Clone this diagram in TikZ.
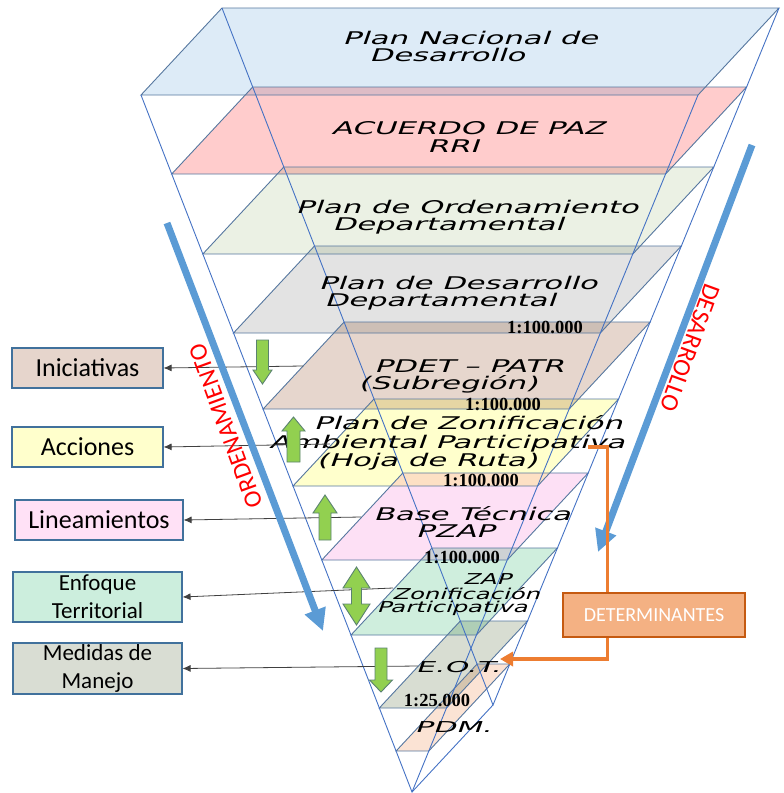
\documentclass[tikz,border=0pt]{standalone}
\usepackage{fontspec}
\setmainfont{Carlito}
\newfontfamily\layf[FakeStretch=1.75,FakeSlant=0.35]{DejaVu Sans}
\newfontfamily\laym[FakeStretch=1.62,FakeSlant=0.35]{DejaVu Sans}
\newfontfamily\layw[FakeStretch=2.0,FakeSlant=0.35]{DejaVu Sans}
\newfontfamily\scf{Liberation Serif}
\usetikzlibrary{arrows.meta,calc}
\definecolor{cA}{HTML}{DDEBF7}
\definecolor{cB}{HTML}{FFCCCC}
\definecolor{cC}{HTML}{EBF1E4}
\definecolor{cD}{HTML}{E3E3E3}
\definecolor{cE}{HTML}{E6D6CD}
\definecolor{cF}{HTML}{FFFFCC}
\definecolor{cG}{HTML}{FDE0F5}
\definecolor{cH}{HTML}{CFEEDD}
\definecolor{cI}{HTML}{D8DDD2}
\definecolor{cJ}{HTML}{FBE3D4}
\definecolor{bAB}{HTML}{DEBCC6}
\definecolor{bBC}{HTML}{EBC1B6}
\definecolor{bCD}{HTML}{D1D7CB}
\definecolor{bDE}{HTML}{CDBFB6}
\definecolor{bEF}{HTML}{E6D6A4}
\definecolor{bFG}{HTML}{FDE0C4}
\definecolor{bGH}{HTML}{CDD1D4}
\definecolor{bHI}{HTML}{AFCEB6}
\definecolor{bIJ}{HTML}{D5C5AF}
\definecolor{edgec}{HTML}{56779F}
\definecolor{wedgec}{HTML}{4472C4}
\definecolor{arrblue}{HTML}{5B9BD5}
\definecolor{grn}{HTML}{92D050}
\definecolor{grnedge}{HTML}{5A8270}
\definecolor{boxedge}{HTML}{41719C}
\definecolor{orng}{HTML}{ED7D31}
\definecolor{orfill}{HTML}{F4B183}
\definecolor{oredge}{HTML}{C55A11}
\definecolor{lblA}{HTML}{E6D5CC}
\definecolor{lblB}{HTML}{FFFFCC}
\definecolor{lblC}{HTML}{FFE1F6}
\definecolor{lblD}{HTML}{CCEEDD}
\definecolor{lblE}{HTML}{D9DDD3}
\definecolor{linegray}{HTML}{404040}
\newcommand\lyrfill[4]{\fill[#4] (#2,#1) -- (#3,#1) -- ({#3-81},{#1+87}) -- ({#2-81},{#1+87}) -- cycle;}
\newcommand\lyrclip[3]{\clip (#2,#1) -- (#3,#1) -- ({#3-81},{#1+87}) -- ({#2-81},{#1+87}) -- cycle;}
\newcommand\lyrline[3]{\draw[lyredge] (#2,#1) -- (#3,#1) -- ({#3-81},{#1+87}) -- ({#2-81},{#1+87}) -- cycle;}
\newcommand\lyrband[7]{\begin{scope}\lyrclip{#1}{#2}{#3}\lyrfill{#4}{#5}{#6}{#7}\end{scope}}
\newcommand\gdn[6]{\draw[garrow] ({#1-#5},#2) -- ({#1+#5},#2) -- ({#1+#5},#3) -- ({#1+#6},#3) -- (#1,#4) -- ({#1-#6},#3) -- ({#1-#5},#3) -- cycle;}
\newcommand\gup[6]{\draw[garrow] (#1,#2) -- ({#1+#6},#3) -- ({#1+#5},#3) -- ({#1+#5},#4) -- ({#1-#5},#4) -- ({#1-#5},#3) -- ({#1-#6},#3) -- cycle;}
\newcommand\gboth[7]{\draw[garrow] (#1,#2) -- ({#1+#7},#3) -- ({#1+#6},#3) -- ({#1+#6},#4) -- ({#1+#7},#4) -- (#1,#5) -- ({#1-#7},#4) -- ({#1-#6},#4) -- ({#1-#6},#3) -- ({#1-#7},#3) -- cycle;}
\begin{document}
\begin{tikzpicture}[x=1pt,y=-1pt,
  lyredge/.style={draw=edgec,line width=0.9pt},
  wedge/.style={draw=wedgec,line width=0.9pt},
  garrow/.style={fill=grn,draw=grnedge,line width=0.9pt,line join=miter},
  lbox/.style={draw=boxedge,line width=1.1pt,inner sep=0pt,font=\fontsize{26}{30}\selectfont},
  lbox2/.style={lbox,align=center,font=\fontsize{23}{28}\selectfont},
  lt/.style={font=\layf\fontsize{17.5}{20}\selectfont,anchor=base,inner sep=0pt},
  ltsmall/.style={font=\laym\fontsize{15}{18}\selectfont,anchor=base,inner sep=0pt},
  ltwide/.style={font=\layw\fontsize{15}{18}\selectfont,anchor=base,inner sep=0pt},
  sc/.style={font=\scf\bfseries\fontsize{18.5}{20}\selectfont,inner sep=0pt},
  conn/.style={draw=linegray,line width=0.8pt,-{Latex[length=8pt,width=7pt]}},
  bigarrow/.style={draw=arrblue,line width=7pt,-{Triangle[length=22pt,width=21pt]}},
  orline/.style={draw=orng,line width=3.5pt},
  rotlbl/.style={text=red,font=\fontsize{25}{25}\selectfont,inner sep=0pt}
]
\useasboundingbox (0,0) rectangle (784,793);
% layers
\lyrfill{8}{222}{779}{cA}
\lyrfill{87}{252.7}{746.6}{cB}
\lyrband{8}{222}{779}{87}{252.7}{746.6}{bAB}
\lyrfill{167}{283.8}{713.8}{cC}
\lyrband{87}{252.7}{746.6}{167}{283.8}{713.8}{bBC}
\lyrfill{246}{314.5}{681.3}{cD}
\lyrband{167}{283.8}{713.8}{246}{314.5}{681.3}{bCD}
\lyrfill{322}{344.1}{650.2}{cE}
\lyrband{246}{314.5}{681.3}{322}{344.1}{650.2}{bDE}
\lyrfill{399}{374.0}{618.6}{cF}
\lyrband{322}{344.1}{650.2}{399}{374.0}{618.6}{bEF}
\lyrfill{473}{402.8}{588.2}{cG}
\lyrband{399}{374.0}{618.6}{473}{402.8}{588.2}{bFG}
\lyrfill{548}{432.0}{557.4}{cH}
\lyrband{473}{402.8}{588.2}{548}{432.0}{557.4}{bGH}
\lyrfill{621}{460.3}{527.5}{cI}
\lyrband{548}{432.0}{557.4}{621}{460.3}{527.5}{bHI}
\lyrfill{664}{477.1}{509.8}{cJ}
\lyrband{621}{460.3}{527.5}{664}{477.1}{509.8}{bIJ}
\lyrline{8}{222}{779}
\lyrline{87}{252.7}{746.6}
\lyrline{167}{283.8}{713.8}
\lyrline{246}{314.5}{681.3}
\lyrline{322}{344.1}{650.2}
\lyrline{399}{374.0}{618.6}
\lyrline{473}{402.8}{588.2}
\lyrline{548}{432.0}{557.4}
\lyrline{621}{460.3}{527.5}
\lyrline{664}{477.1}{509.8}
% wedge
\coordinate (BL) at (222,8);
\coordinate (BR) at (779,8);
\coordinate (FL) at (141,95);
\coordinate (FR) at (698,95);
\coordinate (Ab) at (493,705);
\coordinate (Af) at (412,792);
\draw[wedge] (FL) -- (Af) -- (FR);
\draw[wedge] (BL) -- (Ab) -- (BR);
\draw[wedge] (Ab) -- (Af);
% scale labels
\node[sc] (sa) at (545,327) {1:100.000};
\node[sc] (sb) at (503,404) {1:100.000};
\node[sc] (sd) at (481,480) {1:100.000};
\node[sc] (se) at (462,557) {1:100.000};
\node[sc] (sf) at (437,700) {1:25.000};
% layer texts
\node[lt] (t1a) at (470,44.5) {Plan Nacional de};
\node[lt] (t1b) at (447,61.5) {Desarrollo};
\node[lt] (t2a) at (468,134.5) {ACUERDO DE PAZ};
\node[lt] (t2b) at (453,152.5) {RRI};
\node[lt] (t3a) at (467,213.5) {Plan de Ordenamiento};
\node[lt] (t3b) at (448,230.5) {Departamental};
\node[lt] (t4a) at (458,289.5) {Plan de Desarrollo};
\node[lt] (t4b) at (440,306.5) {Departamental};
\node[lt] (t5a) at (469,372.5) {PDET – PATR};
\node[lt] (t5b) at (448,389.5) {(Subregión)};
\node[lt] (t6a) at (468,429.5) {Plan de Zonificación};
\node[lt] (t6b) at (447,448) {Ambiental Participativa};
\node[lt] (t6c) at (427,466) {(Hoja de Ruta)};
\node[lt] (t7a) at (472,520) {Base Técnica};
\node[lt] (t7b) at (455,537) {PZAP};
\node[ltsmall] (t8a) at (487,584.5) {ZAP};
\node[ltsmall] (t8b) at (466,599.5) {Zonificación};
\node[ltsmall] (t8c) at (452,612.5) {Participativa};
\node[ltwide] (t9) at (458,672.5) {E.O.T.};
\node[ltwide] (t10) at (453,732.5) {PDM.};
% left boxes
\node[lbox,fill=lblA,minimum width=151pt,minimum height=40pt] (ini) at (87.5,368) {Iniciativas};
\node[lbox,fill=lblB,minimum width=151pt,minimum height=40pt] (acc) at (87.5,447) {Acciones};
\node[lbox,fill=lblC,minimum width=168pt,minimum height=40pt] (lin) at (99,520) {Lineamientos};
\node[lbox2,fill=lblD,minimum width=169pt,minimum height=50pt] (enf) at (97.5,597) {Enfoque\\Territorial};
\node[lbox2,fill=lblE,minimum width=169pt,minimum height=51pt] (med) at (97.5,668.5) {Medidas de\\Manejo};
\coordinate (c1) at (303,366);
\coordinate (c2) at (330,444);
\coordinate (c3) at (361,517);
\coordinate (c4) at (393,588);
\coordinate (c5) at (418,666);
\draw[conn] (c1) -- (ini.east);
\draw[conn] (c2) -- (acc.east);
\draw[conn] (c3) -- (lin.east);
\draw[conn] (c4) -- (enf.east);
\draw[conn] (c5) -- (med.east);
% green arrows
\gdn{262.5}{340}{370}{384}{6}{9.5}
\gup{293.5}{417}{431}{462}{6.5}{11.5}
\gup{325}{495}{513}{540}{6}{12}
\gboth{356.5}{567}{588}{604}{625}{5}{13.5}
\gdn{381}{648}{680}{692}{6}{11.5}
% blue arrows
\coordinate (oa) at (167,223);
\coordinate (ob) at (323,631);
\coordinate (da) at (752,145);
\coordinate (db) at (598,552);
\draw[bigarrow] (oa) -- (ob);
\draw[bigarrow] (da) -- (db);
\node[rotlbl,rotate=110] (ordt) at (226,426) {ORDENAMIENTO};
\node[rotlbl,rotate=-110] (dest) at (690,348) {DESARROLLO};
% determinantes
\node[fill=orfill,draw=oredge,line width=1.2pt,text=white,font=\fontsize{20}{22}\selectfont,minimum width=182pt,minimum height=44pt,inner sep=0pt] (det) at (654,615) {DETERMINANTES};
\coordinate (oz) at (588,447);
\coordinate (oe) at (500,659);
\draw[orline] (oz) -| ([xshift=45pt]det.north west);
\draw[orline,-{Triangle[length=13pt,width=14pt]}] ([xshift=45pt]det.south west) |- (oe);
\end{tikzpicture}
\end{document}
